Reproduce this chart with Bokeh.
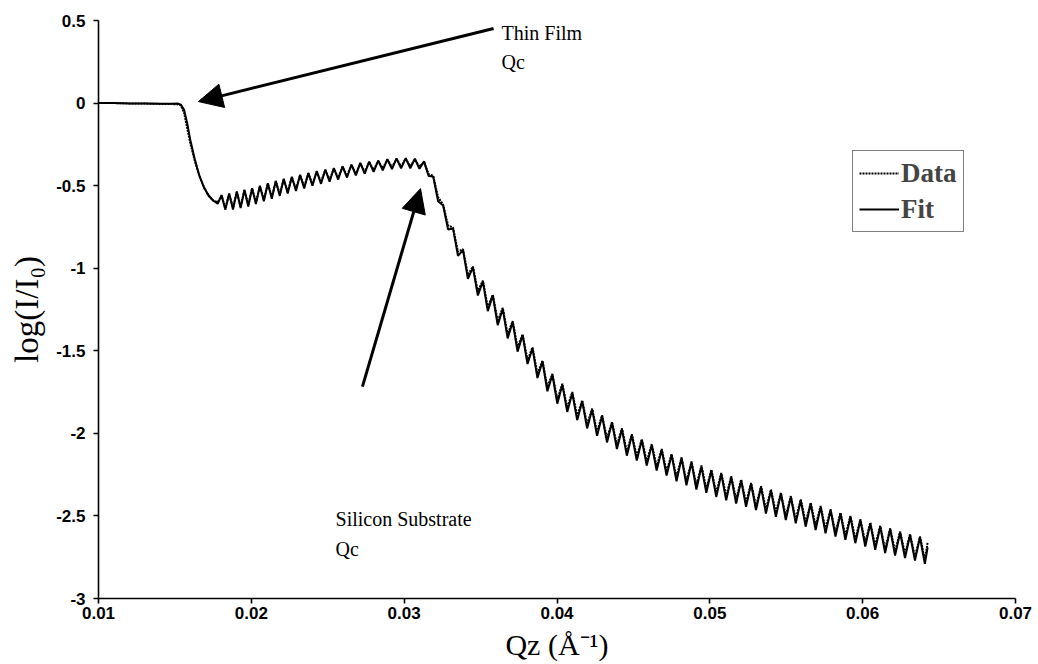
from bokeh.plotting import figure
from bokeh.models import (Range1d, FixedTicker, Arrow, NormalHead, Label,
                          Legend, LegendItem, ColumnDataSource)
from bokeh.embed import file_html
from bokeh.resources import INLINE

# ---------------- data ----------------
# plateau + thin-film critical edge
q_head = [0.0100, 0.0110, 0.0120, 0.0130, 0.0140, 0.0148, 0.0152, 0.0154,
          0.0156, 0.0158, 0.0160, 0.0163, 0.0166, 0.0169, 0.0172, 0.0175, 0.0178]
data_head = [0.000, 0.000, -0.002, -0.003, -0.005, -0.006, -0.008, -0.015,
             -0.060, -0.150, -0.240, -0.350, -0.440, -0.510, -0.560, -0.590, -0.600]
fit_head = [0.000, 0.000, -0.002, -0.003, -0.004, -0.004, -0.003, -0.010,
            -0.040, -0.120, -0.220, -0.340, -0.440, -0.510, -0.560, -0.590, -0.610]

# fringes between the two critical edges (peak / trough extremes)
q_mid = [0.01805, 0.01830, 0.01855, 0.01880, 0.01905, 0.01930, 0.01955, 0.01980, 0.02005, 0.02030,
         0.02056, 0.02082, 0.02108, 0.02134, 0.02160, 0.02186, 0.02212, 0.02238, 0.02265, 0.02292,
         0.02319, 0.02346, 0.02373, 0.02400, 0.02428, 0.02456, 0.02484, 0.02512, 0.02540, 0.02568,
         0.02597, 0.02626, 0.02655, 0.02684, 0.02713, 0.02742, 0.02771, 0.02800, 0.02830, 0.02860,
         0.02890, 0.02920, 0.02950, 0.02980, 0.03010, 0.03040, 0.03070, 0.03100, 0.03130, 0.03160]
data_mid = [-0.561, -0.634, -0.551, -0.632, -0.539, -0.624, -0.529, -0.614, -0.519, -0.600,
            -0.504, -0.583, -0.489, -0.567, -0.475, -0.550, -0.462, -0.535, -0.450, -0.520,
            -0.438, -0.505, -0.427, -0.489, -0.416, -0.477, -0.406, -0.464, -0.397, -0.451,
            -0.387, -0.439, -0.376, -0.426, -0.366, -0.416, -0.358, -0.405, -0.352, -0.395,
            -0.343, -0.388, -0.339, -0.383, -0.337, -0.383, -0.341, -0.386, -0.357, -0.430]
fit_mid = [-0.557, -0.646, -0.547, -0.644, -0.535, -0.636, -0.525, -0.626, -0.515, -0.612,
           -0.500, -0.595, -0.485, -0.579, -0.471, -0.562, -0.458, -0.547, -0.446, -0.532,
           -0.434, -0.517, -0.423, -0.501, -0.412, -0.489, -0.402, -0.476, -0.393, -0.463,
           -0.383, -0.451, -0.372, -0.438, -0.362, -0.428, -0.354, -0.417, -0.348, -0.407,
           -0.339, -0.400, -0.335, -0.395, -0.333, -0.395, -0.337, -0.398, -0.353, -0.442]

# silicon edge and decaying fringes
q_tail = [0.03190, 0.03222, 0.03255, 0.03287, 0.03320, 0.03352, 0.03385, 0.03417, 0.03450, 0.03482,
          0.03515, 0.03547, 0.03580, 0.03612, 0.03645, 0.03677, 0.03710, 0.03742, 0.03775, 0.03807,
          0.03840, 0.03872, 0.03905, 0.03937, 0.03970, 0.04002, 0.04035, 0.04067, 0.04100, 0.04132,
          0.04165, 0.04197, 0.04230, 0.04262, 0.04295, 0.04327, 0.04360, 0.04392, 0.04425, 0.04457,
          0.04490, 0.04522, 0.04555, 0.04587, 0.04620, 0.04652, 0.04685, 0.04717, 0.04750, 0.04782,
          0.04815, 0.04847, 0.04880, 0.04912, 0.04945, 0.04977, 0.05010, 0.05042, 0.05075, 0.05107,
          0.05140, 0.05172, 0.05205, 0.05237, 0.05270, 0.05302, 0.05335, 0.05367, 0.05400, 0.05432,
          0.05465, 0.05497, 0.05530, 0.05562, 0.05595, 0.05627, 0.05660, 0.05692, 0.05725, 0.05757,
          0.05790, 0.05822, 0.05855, 0.05887, 0.05920, 0.05952, 0.05985, 0.06017, 0.06050, 0.06082,
          0.06115, 0.06147, 0.06180, 0.06212, 0.06245, 0.06277, 0.06310, 0.06342, 0.06375, 0.06407,
          0.06425]
data_tail = [-0.440, -0.570, -0.615, -0.740, -0.755, -0.900, -0.885, -1.040, -0.990, -1.140,
             -1.075, -1.235, -1.160, -1.320, -1.240, -1.400, -1.320, -1.480, -1.400, -1.555,
             -1.480, -1.640, -1.560, -1.720, -1.640, -1.795, -1.700, -1.845, -1.750, -1.895,
             -1.800, -1.945, -1.850, -1.990, -1.890, -2.030, -1.930, -2.070, -1.970, -2.110,
             -2.005, -2.140, -2.035, -2.170, -2.065, -2.200, -2.095, -2.230, -2.125, -2.265,
             -2.145, -2.290, -2.170, -2.315, -2.195, -2.335, -2.220, -2.360, -2.240, -2.380,
             -2.260, -2.400, -2.280, -2.420, -2.300, -2.440, -2.320, -2.460, -2.340, -2.480,
             -2.360, -2.500, -2.380, -2.520, -2.400, -2.540, -2.420, -2.560, -2.440, -2.580,
             -2.460, -2.600, -2.480, -2.620, -2.500, -2.640, -2.520, -2.660, -2.540, -2.680,
             -2.560, -2.700, -2.575, -2.715, -2.595, -2.730, -2.610, -2.745, -2.625, -2.765,
             -2.660]
fit_tail = [-0.445, -0.595, -0.620, -0.765, -0.760, -0.925, -0.890, -1.065, -0.995, -1.165,
            -1.080, -1.260, -1.165, -1.345, -1.245, -1.425, -1.325, -1.505, -1.405, -1.580,
            -1.485, -1.665, -1.565, -1.745, -1.645, -1.820, -1.705, -1.870, -1.755, -1.920,
            -1.805, -1.970, -1.855, -2.015, -1.895, -2.055, -1.935, -2.095, -1.975, -2.135,
            -2.010, -2.165, -2.040, -2.195, -2.070, -2.225, -2.100, -2.255, -2.130, -2.290,
            -2.150, -2.315, -2.175, -2.340, -2.200, -2.360, -2.225, -2.385, -2.245, -2.405,
            -2.265, -2.425, -2.285, -2.445, -2.305, -2.465, -2.325, -2.485, -2.345, -2.505,
            -2.365, -2.525, -2.385, -2.545, -2.405, -2.565, -2.425, -2.585, -2.445, -2.605,
            -2.465, -2.625, -2.485, -2.645, -2.505, -2.665, -2.525, -2.685, -2.545, -2.705,
            -2.565, -2.725, -2.580, -2.740, -2.600, -2.755, -2.615, -2.770, -2.630, -2.790,
            -2.690]

x_ticks = [0.01, 0.02, 0.03, 0.04, 0.05, 0.06, 0.07]
x_tick_labels = ["0.01", "0.02", "0.03", "0.04", "0.05", "0.06", "0.07"]
y_ticks = [0.5, 0.0, -0.5, -1.0, -1.5, -2.0, -2.5, -3.0]
y_tick_labels = ["0.5", "0", "-0.5", "-1", "-1.5", "-2", "-2.5", "-3"]

# ---------------- figure ----------------
q = q_head + q_mid + q_tail
data_vals = data_head + data_mid + data_tail
fit_vals = fit_head + fit_mid + fit_tail
src = ColumnDataSource(dict(q=q, data=data_vals, fit=fit_vals))

SERIF = "Liberation Serif"

p = figure(width=1038, height=664, output_backend="svg", toolbar_location=None,
           x_range=Range1d(0.01, 0.07), y_range=Range1d(-3, 0.5),
           min_border_left=98, min_border_right=23, min_border_top=20,
           min_border_bottom=66)
p.background_fill_color = "white"
p.border_fill_color = "white"
p.outline_line_color = None
p.xgrid.visible = False
p.ygrid.visible = False

r_fit = p.line("q", "fit", source=src, line_color="black", line_width=2.0)
r_data = p.line("q", "data", source=src, line_color="black", line_width=2.0,
                line_dash="2 1")

for ax in (p.xaxis[0], p.yaxis[0]):
    ax.axis_line_color = "black"
    ax.axis_line_width = 1.6
    ax.major_tick_line_color = "black"
    ax.major_tick_line_width = 1.6
    ax.major_tick_in = 0
    ax.major_tick_out = 5
    ax.minor_tick_in = 0
    ax.minor_tick_out = 0
    ax.major_label_text_font = "Liberation Sans"
    ax.major_label_text_font_style = "bold"
    ax.major_label_text_font_size = "17px"
    ax.major_label_text_color = "black"
    ax.axis_label_text_font = SERIF
    ax.axis_label_text_font_style = "normal"
    ax.axis_label_text_color = "black"

p.xaxis.ticker = FixedTicker(ticks=x_ticks)
p.xaxis.major_label_overrides = dict(zip(x_ticks, x_tick_labels))
p.yaxis.ticker = FixedTicker(ticks=y_ticks)
p.yaxis.major_label_overrides = dict(zip(y_ticks, y_tick_labels))
p.xaxis.major_label_standoff = 3
p.yaxis.major_label_standoff = 8
p.xaxis.axis_label = "Qz (Å\u207b\u00b9)"
p.yaxis.axis_label = "log(I/I\u2080)"
p.xaxis.axis_label_text_font_size = "30px"
p.yaxis.axis_label_text_font_size = "33px"
p.xaxis.axis_label_standoff = 6
p.yaxis.axis_label_standoff = 8

# annotations
p.add_layout(Arrow(end=NormalHead(size=24, fill_color="black", line_color="black"),
                   x_start=0.03585, y_start=0.452, x_end=0.01654, y_end=0.009,
                   line_color="black", line_width=3))
p.add_layout(Arrow(end=NormalHead(size=24, fill_color="black", line_color="black"),
                   x_start=0.02727, y_start=-1.717, x_end=0.03107, y_end=-0.518,
                   line_color="black", line_width=3))

for (tx, ty, txt) in [(0.03637, 0.427, "Thin Film"), (0.03637, 0.246, "Qc"),
                      (0.02551, -2.516, "Silicon Substrate"), (0.02551, -2.698, "Qc")]:
    p.add_layout(Label(x=tx, y=ty, text=txt, text_font=SERIF, text_font_size="20px",
                       text_baseline="middle", text_align="left", text_color="black"))

legend = Legend(items=[LegendItem(label="Data", renderers=[r_data]),
                       LegendItem(label="Fit", renderers=[r_fit])],
                location=(754, 366))
legend.label_text_font = SERIF
legend.label_text_font_style = "bold"
legend.label_text_font_size = "27px"
legend.glyph_width = 40
legend.glyph_height = 32
legend.label_height = 32
legend.label_standoff = 2
legend.spacing = 4
legend.padding = 6
legend.border_line_color = "black"
legend.border_line_width = 1.2
legend.background_fill_alpha = 1
legend.margin = 0
p.add_layout(legend)

open("out.html", "w").write(file_html(p, INLINE))
